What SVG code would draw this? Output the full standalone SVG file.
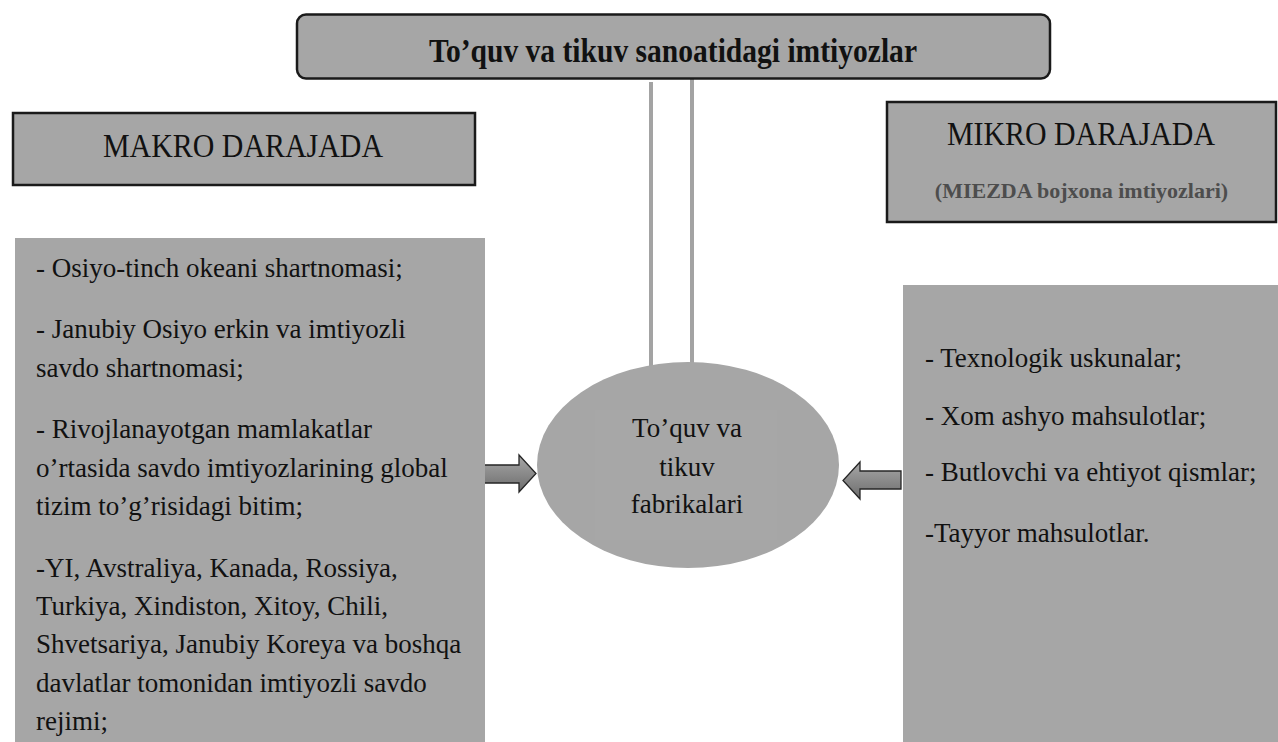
<svg xmlns="http://www.w3.org/2000/svg" width="1278" height="742" viewBox="0 0 1278 742">
<defs>
<style>
.t{font-family:"Liberation Serif","Times New Roman",serif;font-size:27px;fill:#111}
.box{fill:#a6a6a6}
.frame{fill:#a6a6a6;stroke:#1a1a1a;stroke-width:2.5}
.conn{stroke:#a3a3a3;stroke-width:4;fill:none}
.arr{fill:url(#ag);stroke:#262626;stroke-width:1.3;stroke-linejoin:miter}
</style>
<linearGradient id="ag" x1="0" y1="0" x2="0" y2="1">
<stop offset="0" stop-color="#a8a8a8"/>
<stop offset="1" stop-color="#6c6c6c"/>
</linearGradient>
</defs>
<rect width="1278" height="742" fill="#ffffff"/>
<g id="connectors">
<line class="conn" x1="651" y1="82" x2="651" y2="368"/>
<line class="conn" x1="692" y1="79" x2="692" y2="365"/>
<path class="arr" d="M484,465 H519 V455 L536,473.5 L519,492 V483 H484 Z"/>
<path class="arr" d="M901,471 H860 V462 L843,480.5 L860,499 V489 H901 Z"/>
</g>
<g id="title">
<rect class="frame" x="297" y="14.5" width="753" height="64" rx="9"/>
<text x="673" y="62" text-anchor="middle" font-family="Liberation Serif,Times New Roman,serif" font-weight="bold" font-size="33" fill="#111" textLength="488" lengthAdjust="spacingAndGlyphs">To’quv va tikuv sanoatidagi imtiyozlar</text>
</g>
<g id="makro">
<rect class="frame" x="13" y="113" width="462" height="72"/>
<text x="243" y="157" text-anchor="middle" font-family="Liberation Serif,Times New Roman,serif" font-size="34" fill="#111" textLength="280" lengthAdjust="spacingAndGlyphs">MAKRO DARAJADA</text>
</g>
<g id="mikro">
<rect class="frame" x="887" y="102" width="389" height="120"/>
<text x="1081" y="145" text-anchor="middle" font-family="Liberation Serif,Times New Roman,serif" font-size="33" fill="#111" textLength="268" lengthAdjust="spacingAndGlyphs">MIKRO DARAJADA</text>
<text x="1081.5" y="198" text-anchor="middle" font-family="Liberation Serif,Times New Roman,serif" font-size="22" font-weight="bold" fill="#4d4d4d">(MIEZDA bojxona imtiyozlari)</text>
</g>
<g id="makro-list">
<rect class="box" x="15" y="238" width="470" height="504"/>
<text class="t" x="36" y="277">- Osiyo-tinch okeani shartnomasi;</text>
<text class="t" x="36" y="338">- Janubiy Osiyo erkin va imtiyozli</text>
<text class="t" x="36" y="377">savdo shartnomasi;</text>
<text class="t" x="36" y="438">- Rivojlanayotgan mamlakatlar</text>
<text class="t" x="36" y="477">o’rtasida savdo imtiyozlarining global</text>
<text class="t" x="36" y="515">tizim to’g’risidagi bitim;</text>
<text class="t" x="36" y="577">-YI, Avstraliya, Kanada, Rossiya,</text>
<text class="t" x="36" y="615">Turkiya, Xindiston, Xitoy, Chili,</text>
<text class="t" x="36" y="653">Shvetsariya, Janubiy Koreya va boshqa</text>
<text class="t" x="36" y="692">davlatlar tomonidan imtiyozli savdo</text>
<text class="t" x="36" y="730">rejimi;</text>
</g>
<g id="mikro-list">
<rect class="box" x="903" y="285" width="375" height="457"/>
<text class="t" x="925" y="367">- Texnologik uskunalar;</text>
<text class="t" x="925" y="425">- Xom ashyo mahsulotlar;</text>
<text class="t" x="925" y="481">- Butlovchi va ehtiyot qismlar;</text>
<text class="t" x="925" y="542">-Tayyor mahsulotlar.</text>
</g>
<g id="center">
<ellipse class="box" cx="688" cy="465" rx="151" ry="103"/>
<rect x="595" y="410" width="182" height="130" fill="#a7a7a7"/>
<text class="t" x="687" y="437" text-anchor="middle">To’quv va</text>
<text class="t" x="687" y="476" text-anchor="middle">tikuv</text>
<text class="t" x="687" y="513" text-anchor="middle">fabrikalari</text>
</g>
</svg>
